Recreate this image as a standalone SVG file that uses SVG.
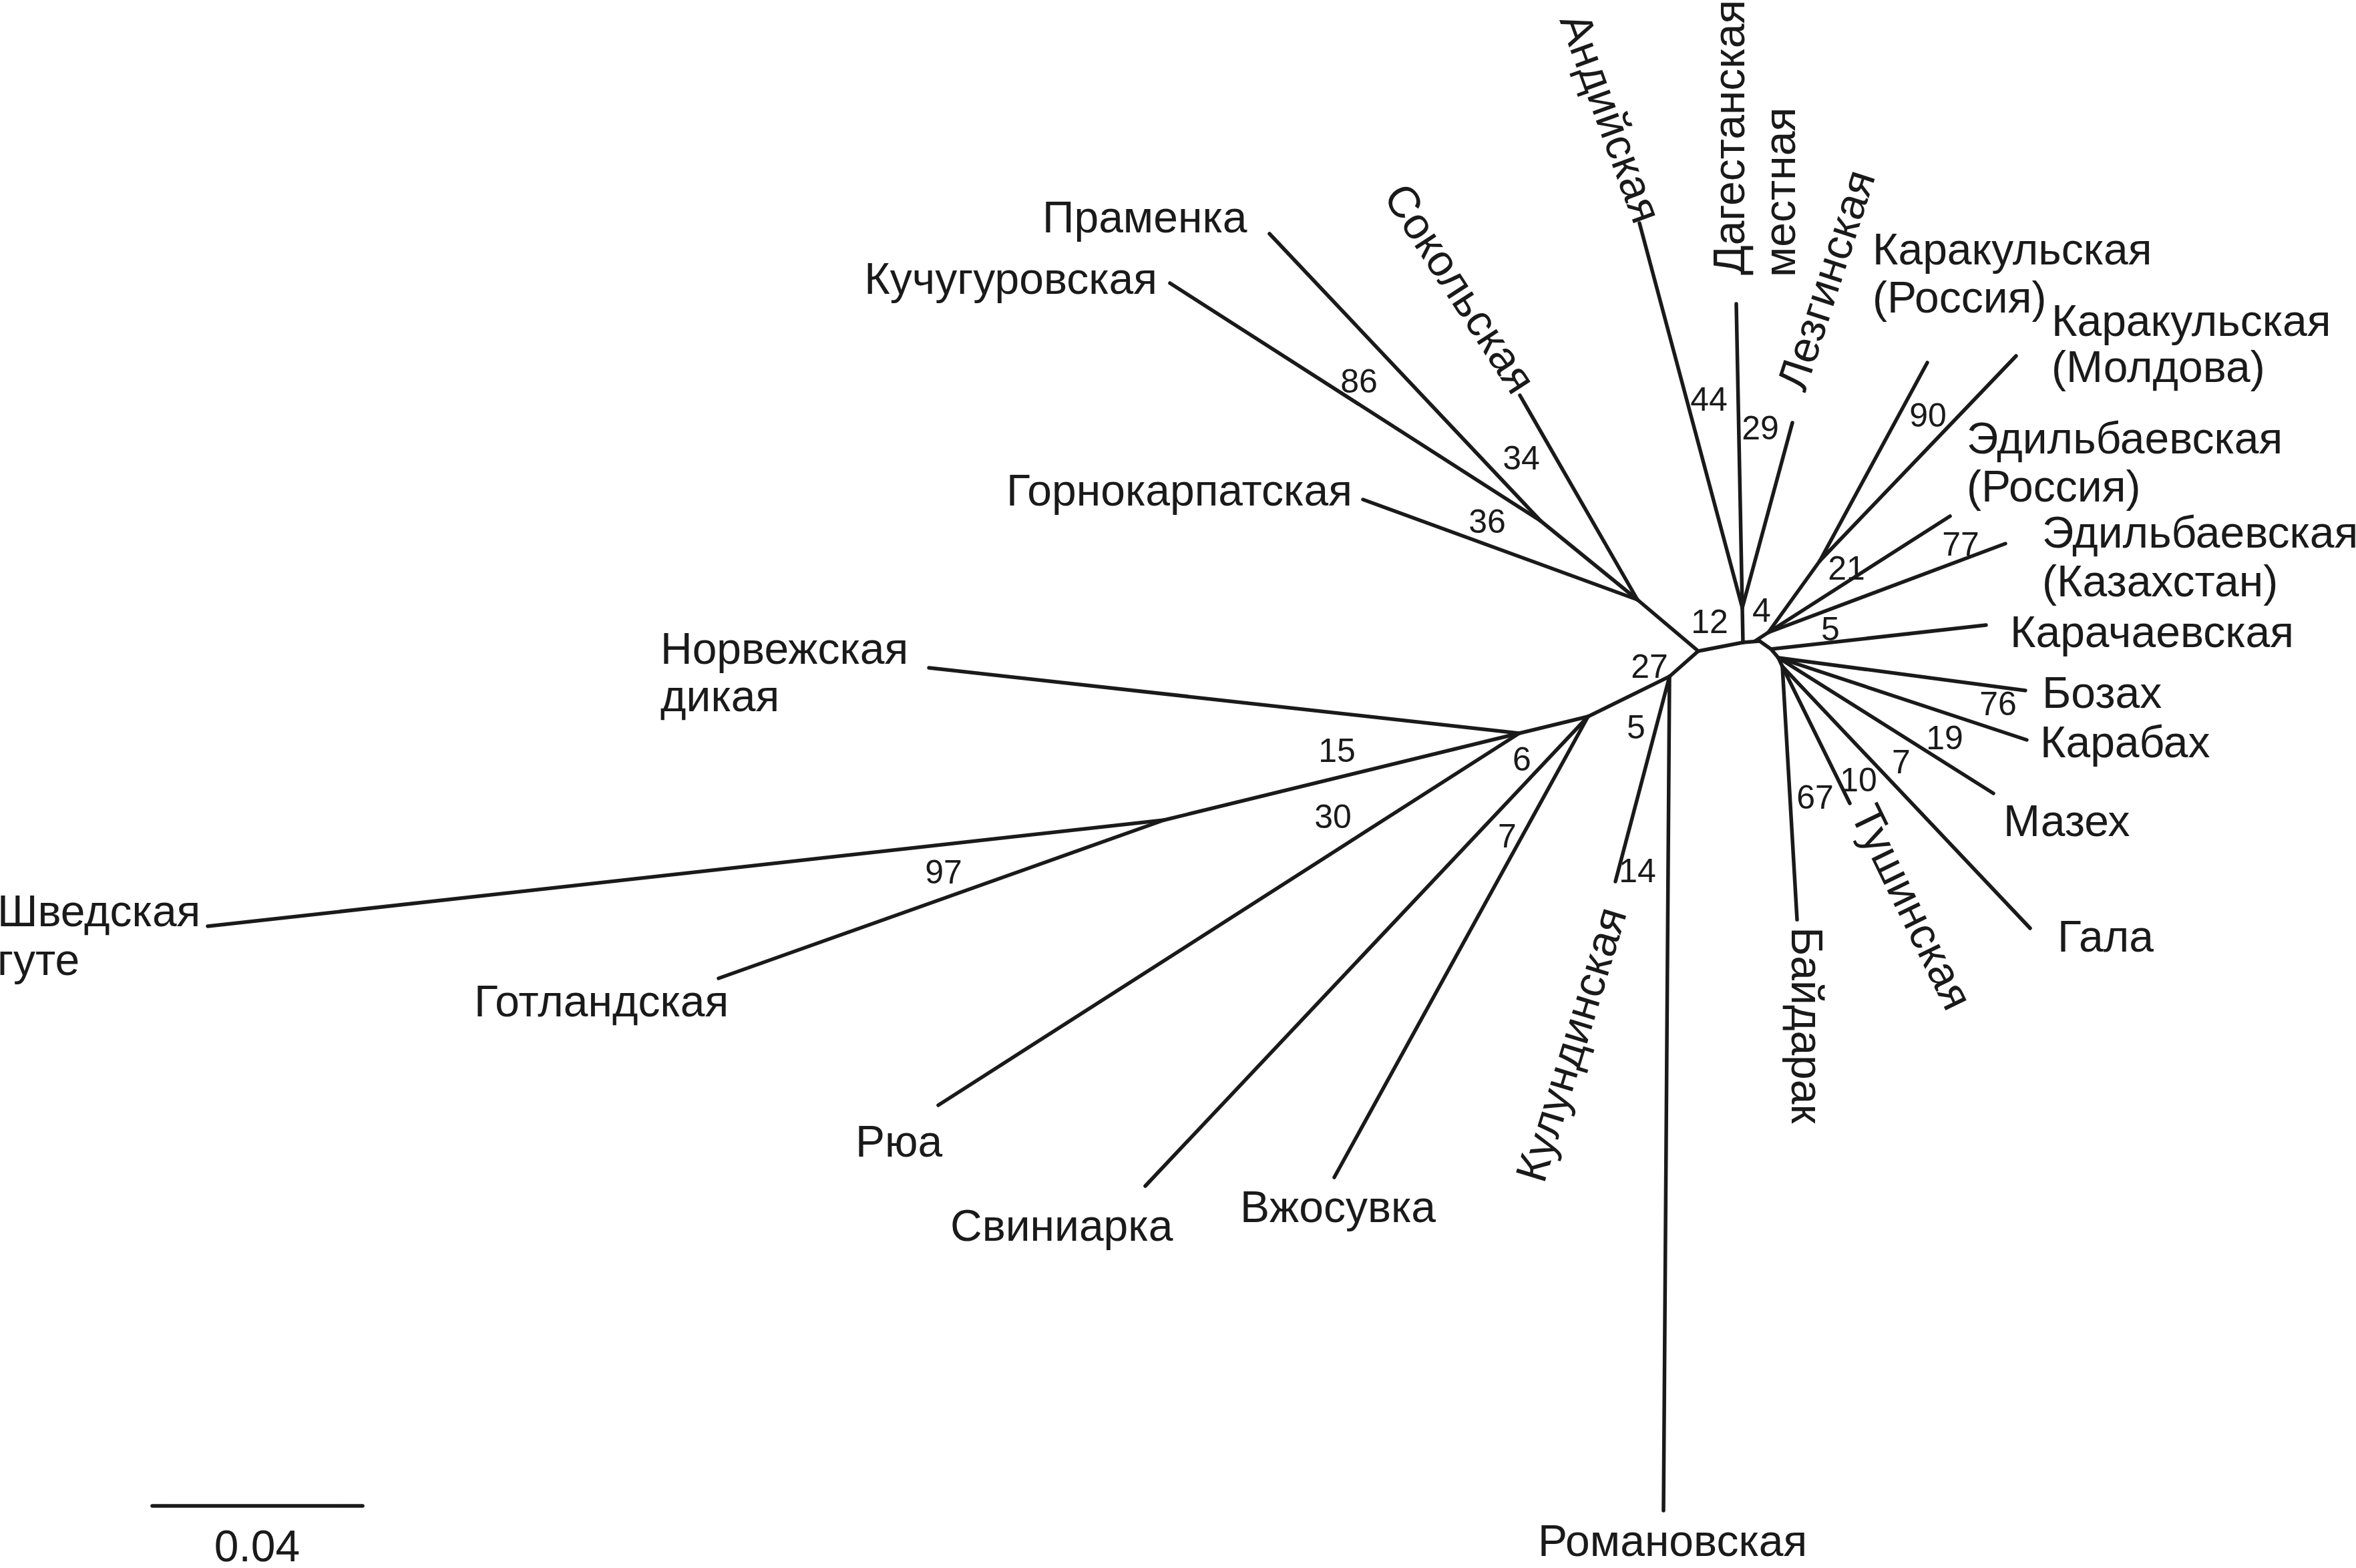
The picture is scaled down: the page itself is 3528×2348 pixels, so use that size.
<svg xmlns="http://www.w3.org/2000/svg" width="3528" height="2348" viewBox="0 0 3528 2348">
<style>
.e{stroke:#1a1a1a;stroke-width:5.5;stroke-linecap:round;fill:none}
.l{font-family:"Liberation Sans",Arial,sans-serif;font-size:66px;fill:#1a1a1a}
.b{font-family:"Liberation Sans",Arial,sans-serif;font-size:50px;fill:#1a1a1a;text-anchor:middle}
</style>
<rect width="3528" height="2348" fill="#fff"/>
<g id="edges">
<line class="e" x1="1901" y1="350" x2="2307" y2="780"/>
<line class="e" x1="1752" y1="424" x2="2307" y2="780"/>
<line class="e" x1="2307" y1="780" x2="2452" y2="898"/>
<line class="e" x1="2276" y1="592" x2="2452" y2="898"/>
<line class="e" x1="2041" y1="748" x2="2452" y2="898"/>
<line class="e" x1="2452" y1="898" x2="2543" y2="975"/>
<line class="e" x1="2543" y1="975" x2="2610" y2="962"/>
<line class="e" x1="2610" y1="962" x2="2609" y2="910"/>
<line class="e" x1="2455" y1="334" x2="2609" y2="910"/>
<line class="e" x1="2600" y1="455" x2="2609" y2="910"/>
<line class="e" x1="2684" y1="633" x2="2609" y2="910"/>
<line class="e" x1="2610" y1="962" x2="2635" y2="960"/>
<line class="e" x1="2628" y1="960" x2="2648" y2="947"/>
<line class="e" x1="2648" y1="947" x2="2725" y2="840"/>
<line class="e" x1="2886" y1="543" x2="2725" y2="840"/>
<line class="e" x1="3019" y1="533" x2="2725" y2="840"/>
<line class="e" x1="2920" y1="773" x2="2648" y2="947"/>
<line class="e" x1="3003" y1="814" x2="2648" y2="947"/>
<polyline class="e" points="2635,960 2652,972 2663,985 2669,998"/>
<line class="e" x1="2652" y1="972" x2="2974" y2="936"/>
<line class="e" x1="2663" y1="985" x2="3033" y2="1034"/>
<line class="e" x1="2663" y1="985" x2="3035" y2="1108"/>
<line class="e" x1="2663" y1="985" x2="2985" y2="1188"/>
<line class="e" x1="2669" y1="998" x2="3040" y2="1390"/>
<line class="e" x1="2669" y1="998" x2="2770" y2="1203"/>
<line class="e" x1="2669" y1="998" x2="2691" y2="1377"/>
<line class="e" x1="2543" y1="975" x2="2500" y2="1013"/>
<line class="e" x1="2500" y1="1013" x2="2491" y2="2262"/>
<line class="e" x1="2500" y1="1013" x2="2419" y2="1320"/>
<line class="e" x1="2500" y1="1013" x2="2378" y2="1073"/>
<line class="e" x1="2378" y1="1073" x2="1715" y2="1776"/>
<line class="e" x1="2378" y1="1073" x2="1998" y2="1763"/>
<line class="e" x1="2378" y1="1073" x2="2275" y2="1098"/>
<line class="e" x1="2275" y1="1098" x2="1391" y2="1000"/>
<line class="e" x1="2275" y1="1098" x2="1405" y2="1655"/>
<line class="e" x1="2275" y1="1098" x2="1743" y2="1228"/>
<line class="e" x1="1743" y1="1228" x2="311" y2="1387"/>
<line class="e" x1="1743" y1="1228" x2="1076" y2="1465"/>
</g>
<g id="support">
<text class="b" x="2035" y="588">86</text>
<text class="b" x="2278" y="703">34</text>
<text class="b" x="2227" y="798">36</text>
<text class="b" x="2559" y="615">44</text>
<text class="b" x="2636" y="658">29</text>
<text class="b" x="2560" y="948">12</text>
<text class="b" x="2638" y="931">4</text>
<text class="b" x="2887" y="639">90</text>
<text class="b" x="2765" y="868">21</text>
<text class="b" x="2936" y="832">77</text>
<text class="b" x="2741" y="959">5</text>
<text class="b" x="2992" y="1071">76</text>
<text class="b" x="2912" y="1122">19</text>
<text class="b" x="2847" y="1158">7</text>
<text class="b" x="2783" y="1185">10</text>
<text class="b" x="2718" y="1211">67</text>
<text class="b" x="2470" y="1015">27</text>
<text class="b" x="2450" y="1106">5</text>
<text class="b" x="2452" y="1321">14</text>
<text class="b" x="2279" y="1154">6</text>
<text class="b" x="2257" y="1269">7</text>
<text class="b" x="2002" y="1141">15</text>
<text class="b" x="1996" y="1240">30</text>
<text class="b" x="1413" y="1323">97</text>
</g>
<g id="n-pramenka"><text class="l" x="1561" y="348">Праменка</text></g>
<g id="n-kuchugur"><text class="l" x="1733" y="440" text-anchor="end">Кучугуровская</text></g>
<g id="n-gornokarp"><text class="l" x="1507" y="757">Горнокарпатская</text></g>
<g id="n-sokol"><text class="l" transform="translate(2070,294) rotate(57)">Сокольская</text></g>
<g id="n-andi"><text class="l" transform="translate(2335,30) rotate(70)">Андийская</text></g>
<g id="n-dagestan"><text class="l" transform="translate(2612,412) rotate(-90)">Дагестанская</text><text class="l" transform="translate(2688,415) rotate(-90)">местная</text></g>
<g id="n-lezgin"><text class="l" transform="translate(2703,589) rotate(-72)">Лезгинская</text></g>
<g id="n-karakul-ru"><text class="l" x="2804" y="396">Каракульская</text><text class="l" x="2804" y="468">(Россия)</text></g>
<g id="n-karakul-md"><text class="l" x="3072" y="503">Каракульская</text><text class="l" x="3072" y="572">(Молдова)</text></g>
<g id="n-edil-ru"><text class="l" x="2945" y="679">Эдильбаевская</text><text class="l" x="2945" y="751">(Россия)</text></g>
<g id="n-edil-kz"><text class="l" x="3058" y="820">Эдильбаевская</text><text class="l" x="3058" y="893">(Казахстан)</text></g>
<g id="n-karachai"><text class="l" x="3010" y="969">Карачаевская</text></g>
<g id="n-bozakh"><text class="l" x="3058" y="1060">Бозах</text></g>
<g id="n-karabakh"><text class="l" x="3055" y="1134">Карабах</text></g>
<g id="n-mazekh"><text class="l" x="3000" y="1252">Мазех</text></g>
<g id="n-gala"><text class="l" x="3081" y="1425">Гала</text></g>
<g id="n-tushin"><text class="l" transform="translate(2770,1219) rotate(64)">Тушинская</text></g>
<g id="n-baidarak"><text class="l" transform="translate(2683,1388) rotate(90)">Байдарак</text></g>
<g id="n-romanov"><text class="l" x="2303" y="2330">Романовская</text></g>
<g id="n-kulunda"><text class="l" transform="translate(2312,1774) rotate(-73)">Кулундинская</text></g>
<g id="n-vzhosuvka"><text class="l" x="1857" y="1830">Вжосувка</text></g>
<g id="n-sviniarka"><text class="l" x="1423" y="1858">Свиниарка</text></g>
<g id="n-rua"><text class="l" x="1281" y="1732">Рюа</text></g>
<g id="n-gotland"><text class="l" x="710" y="1522">Готландская</text></g>
<g id="n-swedish"><text class="l" x="-4" y="1387">Шведская</text><text class="l" x="-4" y="1460">гуте</text></g>
<g id="n-norway"><text class="l" x="989" y="994">Норвежская</text><text class="l" x="989" y="1065">дикая</text></g>
<g id="scale">
<line class="e" x1="228" y1="2255" x2="543" y2="2255"/>
<text class="l" x="385" y="2338" text-anchor="middle">0.04</text>
</g>
</svg>
